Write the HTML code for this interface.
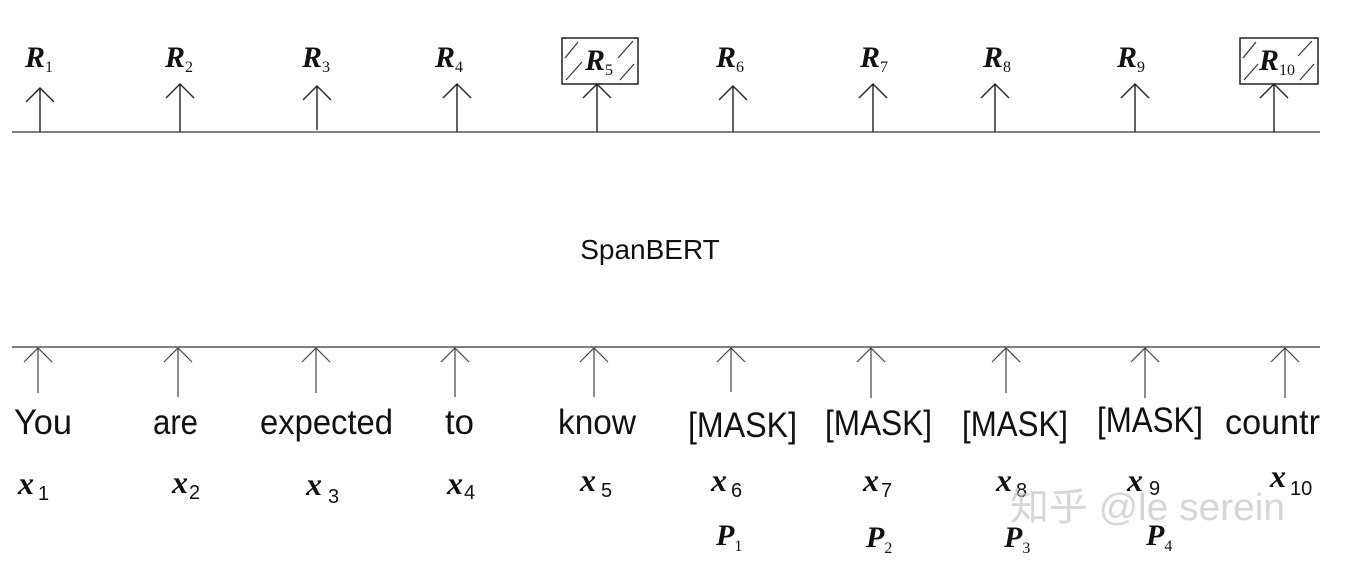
<!DOCTYPE html>
<html><head><meta charset="utf-8"><style>
html,body{margin:0;padding:0;background:#fff;width:1346px;height:578px;overflow:hidden}
svg text{font-family:"Liberation Sans",sans-serif}
.s{font-family:"Liberation Serif",serif}
</style></head><body>
<svg width="1346" height="578" viewBox="0 0 1346 578" xmlns="http://www.w3.org/2000/svg">
<line x1="12" y1="132" x2="1320" y2="132" stroke="#555" stroke-width="1.5"/>
<line x1="12" y1="347" x2="1320" y2="347" stroke="#555" stroke-width="1.5"/>
<rect x="562" y="38" width="76" height="46" fill="#fff" stroke="#222" stroke-width="1.5"/>
<rect x="1240" y="38" width="78" height="46" fill="#fff" stroke="#222" stroke-width="1.5"/>
<g stroke="#333" stroke-width="1.2">
<line x1="565" y1="58" x2="578" y2="42"/><line x1="566" y1="80" x2="582" y2="62"/>
<line x1="618" y1="58" x2="633" y2="41"/><line x1="620" y1="80" x2="634" y2="64"/>
<line x1="1243" y1="58" x2="1256" y2="42"/><line x1="1244" y1="80" x2="1258" y2="64"/>
<line x1="1298" y1="56" x2="1312" y2="41"/><line x1="1300" y1="80" x2="1314" y2="64"/>
</g>
<g stroke="#222" stroke-width="1.4" fill="none">
<path d="M40 132V88M26 102L40 88L54 102"/>
<path d="M180 132V84M166 98L180 84L194 98"/>
<path d="M317 130V86M303 100L317 86L331 100"/>
<path d="M457 132V84M443 98L457 84L471 98"/>
<path d="M597 132V84M583 98L597 84L611 98"/>
<path d="M733 132V86M719 100L733 86L747 100"/>
<path d="M873 132V84M859 98L873 84L887 98"/>
<path d="M995 132V84M981 98L995 84L1009 98"/>
<path d="M1135 132V84M1121 98L1135 84L1149 98"/>
<path d="M1274 132V84M1260 98L1274 84L1288 98"/>
</g>
<g stroke="#444" stroke-width="1.2" fill="none">
<path d="M38 393V348M24 362L38 348L52 362"/>
<path d="M178 397V348M164 362L178 348L192 362"/>
<path d="M316 393V348M302 362L316 348L330 362"/>
<path d="M455 397V348M441 362L455 348L469 362"/>
<path d="M594 397V348M580 362L594 348L608 362"/>
<path d="M731 392V348M717 362L731 348L745 362"/>
<path d="M871 398V348M857 362L871 348L885 362"/>
<path d="M1006 393V348M992 362L1006 348L1020 362"/>
<path d="M1145 398V348M1131 362L1145 348L1159 362"/>
<path d="M1285 398V348M1271 362L1285 348L1299 362"/>
</g>
<g class="s" font-weight="bold" font-style="italic" font-size="30" fill="#111">
<text x="25" y="67" class="s">R<tspan font-size="16" font-weight="normal" font-style="normal" dy="5">1</tspan></text>
<text x="165" y="67" class="s">R<tspan font-size="16" font-weight="normal" font-style="normal" dy="5">2</tspan></text>
<text x="302" y="67" class="s">R<tspan font-size="16" font-weight="normal" font-style="normal" dy="5">3</tspan></text>
<text x="435" y="67" class="s">R<tspan font-size="16" font-weight="normal" font-style="normal" dy="5">4</tspan></text>
<text x="585" y="70" class="s">R<tspan font-size="16" font-weight="normal" font-style="normal" dy="5">5</tspan></text>
<text x="716" y="67" class="s">R<tspan font-size="16" font-weight="normal" font-style="normal" dy="5">6</tspan></text>
<text x="860" y="67" class="s">R<tspan font-size="16" font-weight="normal" font-style="normal" dy="5">7</tspan></text>
<text x="983" y="67" class="s">R<tspan font-size="16" font-weight="normal" font-style="normal" dy="5">8</tspan></text>
<text x="1117" y="67" class="s">R<tspan font-size="16" font-weight="normal" font-style="normal" dy="5">9</tspan></text>
<text x="1259" y="70" class="s">R<tspan font-size="16" font-weight="normal" font-style="normal" dy="5">10</tspan></text>
</g>
<text x="650" y="259" font-size="28" text-anchor="middle" fill="#111">SpanBERT</text>
<g font-size="35" fill="#111">
<text x="14" y="434" textLength="58" lengthAdjust="spacingAndGlyphs">You</text>
<text x="153" y="434" textLength="45" lengthAdjust="spacingAndGlyphs">are</text>
<text x="260" y="434" textLength="133" lengthAdjust="spacingAndGlyphs">expected</text>
<text x="445" y="434" textLength="29" lengthAdjust="spacingAndGlyphs">to</text>
<text x="558" y="434" textLength="78" lengthAdjust="spacingAndGlyphs">know</text>
<text x="688" y="437" textLength="109" lengthAdjust="spacingAndGlyphs">[MASK]</text>
<text x="825" y="435" textLength="107" lengthAdjust="spacingAndGlyphs">[MASK]</text>
<text x="962" y="436" textLength="106" lengthAdjust="spacingAndGlyphs">[MASK]</text>
<text x="1097" y="432" textLength="106" lengthAdjust="spacingAndGlyphs">[MASK]</text>
<text x="1225" y="434" textLength="95" lengthAdjust="spacingAndGlyphs">countr</text>
</g>
<g font-size="32" fill="#111" font-weight="bold" font-style="italic">
<text x="18" y="494" class="s">x<tspan font-size="20" font-weight="normal" font-style="normal" font-family="Liberation Sans" dx="4" dy="6">1</tspan></text>
<text x="172" y="493" class="s">x<tspan font-size="20" font-weight="normal" font-style="normal" font-family="Liberation Sans" dx="1" dy="6">2</tspan></text>
<text x="306" y="495" class="s">x<tspan font-size="20" font-weight="normal" font-style="normal" font-family="Liberation Sans" dx="6" dy="8">3</tspan></text>
<text x="447" y="494" class="s">x<tspan font-size="20" font-weight="normal" font-style="normal" font-family="Liberation Sans" dx="1" dy="5">4</tspan></text>
<text x="580" y="491" class="s">x<tspan font-size="20" font-weight="normal" font-style="normal" font-family="Liberation Sans" dx="5" dy="6">5</tspan></text>
<text x="711" y="491" class="s">x<tspan font-size="20" font-weight="normal" font-style="normal" font-family="Liberation Sans" dx="4" dy="6">6</tspan></text>
<text x="863" y="491" class="s">x<tspan font-size="20" font-weight="normal" font-style="normal" font-family="Liberation Sans" dx="2" dy="6">7</tspan></text>
<text x="996" y="491" class="s">x<tspan font-size="20" font-weight="normal" font-style="normal" font-family="Liberation Sans" dx="4" dy="6">8</tspan></text>
<text x="1127" y="491" class="s">x<tspan font-size="20" font-weight="normal" font-style="normal" font-family="Liberation Sans" dx="6" dy="4">9</tspan></text>
<text x="1270" y="487" class="s">x<tspan font-size="20" font-weight="normal" font-style="normal" font-family="Liberation Sans" dx="4" dy="8">10</tspan></text>
</g>
<g font-size="30" fill="#111" font-weight="bold" font-style="italic">
<text x="716" y="545" class="s">P<tspan font-size="16" font-weight="normal" font-style="normal" dy="6">1</tspan></text>
<text x="866" y="547" class="s">P<tspan font-size="16" font-weight="normal" font-style="normal" dy="6">2</tspan></text>
<text x="1004" y="547" class="s">P<tspan font-size="16" font-weight="normal" font-style="normal" dy="6">3</tspan></text>
<text x="1146" y="545" class="s">P<tspan font-size="16" font-weight="normal" font-style="normal" dy="6">4</tspan></text>
</g>
<text x="1010" y="520" font-size="38" fill="#c4c4c4" fill-opacity="0.7" textLength="275" lengthAdjust="spacingAndGlyphs" font-family="'Liberation Sans','Noto Sans CJK SC',sans-serif">知乎 @le serein</text>
</svg>
</body></html>
